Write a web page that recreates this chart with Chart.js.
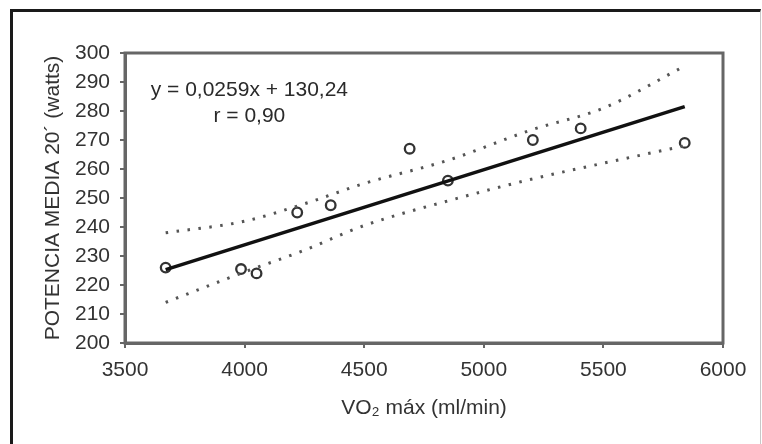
<!DOCTYPE html>
<html>
<head>
<meta charset="utf-8">
<script src="https://cdn.jsdelivr.net/npm/chart.js@4.4.0/dist/chart.umd.min.js"></script>
<style>
  body { margin: 0; background: #fff; }
  #wrap { position: relative; width: 762px; height: 444px; overflow: hidden; }
  #frame { position: absolute; left: 10px; top: 9px; right: 1px; bottom: -10px;
           border-left: 3px solid #1a1a1a; border-top: 3px solid #1a1a1a; border-right: 1px solid #c8c8c8; }
  canvas { position: absolute; left: 0; top: 0; }
</style>
</head>
<body>
<div id="wrap">
  <div id="frame"></div>
  <canvas id="chart" width="762" height="444"></canvas>
</div>
<script>
// measured points
var vo2 = [3670, 3985, 4050, 4220, 4360, 4690, 4850, 5205, 5405, 5840];
var potencia = [226, 225.5, 224, 245, 247.5, 267, 256, 270, 274, 269];

// regression line ends
var fitX = [3670, 5840];
var fitY = [225.3, 281.5];

// dotted bands
var bandX = [3670, 4000, 4250, 4500, 4850, 5200, 5500, 5840];
var bandUpper = [238, 242, 248, 255, 263, 273.5, 281, 295.5];
var bandLower = [214, 224.5, 232, 240.5, 249, 256.5, 262, 268];

var xTicks = [3500, 4000, 4500, 5000, 5500, 6000];
var yTicks = [200, 210, 220, 230, 240, 250, 260, 270, 280, 290, 300];

var eqLines = ["y = 0,0259x + 130,24", "r = 0,90"];

function pts(xs, ys) {
    return xs.map(function (x, i) { return { x: x, y: ys[i] }; });
}

var FONT = "'Liberation Sans', Arial, sans-serif";
var FSIZE = 21;
var axisColor = "#666";

var boxPlugin = {
    id: "box",
    afterDatasetsDraw: function (chart) {
        var a = chart.chartArea, ctx = chart.ctx;
        ctx.save();
        ctx.strokeStyle = axisColor;
        ctx.lineWidth = 3;
        ctx.strokeRect(a.left, a.top, a.right - a.left, a.bottom - a.top);

        // equation text
        var sx = chart.scales.x, sy = chart.scales.y;
        ctx.fillStyle = "#2a2a2a";
        ctx.font = FSIZE + "px " + FONT;
        ctx.textAlign = "center";
        ctx.textBaseline = "middle";
        var cx = sx.getPixelForValue(4020);
        ctx.fillText(eqLines[0], cx, sy.getPixelForValue(287));
        ctx.fillText(eqLines[1], cx, sy.getPixelForValue(278.2));
        ctx.restore();
    }
};

var bandStyle = {
    type: "line",
    borderColor: "#555",
    borderWidth: 3,
    borderDash: [2.5, 8.5],
    pointRadius: 0,
    cubicInterpolationMode: "monotone",
    fill: false
};

new Chart(document.getElementById("chart"), {
    type: "scatter",
    data: {
        datasets: [
            Object.assign({ data: pts(bandX, bandUpper) }, bandStyle),
            Object.assign({ data: pts(bandX, bandLower) }, bandStyle),
            {
                type: "line",
                data: pts(fitX, fitY),
                borderColor: "#111",
                borderWidth: 3.5,
                pointRadius: 0,
                fill: false
            },
            {
                data: pts(vo2, potencia),
                pointStyle: "circle",
                pointRadius: 4.8,
                pointBorderWidth: 2.3,
                pointBorderColor: "#333",
                pointBackgroundColor: "rgba(255,255,255,0)"
            }
        ]
    },
    options: {
        responsive: false,
        animation: false,
        devicePixelRatio: 1,
        layout: { padding: { top: 53, right: 39, left: 0, bottom: 0 } },
        plugins: { legend: { display: false }, tooltip: { enabled: false } },
        scales: {
            x: {
                type: "linear",
                min: 3500,
                max: 6000,
                afterBuildTicks: function (s) { s.ticks = xTicks.map(function (v) { return { value: v }; }); },
                afterFit: function (s) { s.height = 101; },
                ticks: {
                    callback: function (v) { return v; },
                    color: "#333",
                    font: { family: FONT, size: FSIZE },
                    padding: 10,
                    maxRotation: 0
                },
                grid: { drawOnChartArea: false, drawTicks: true, tickLength: 5, color: axisColor, lineWidth: 2 },
                border: { color: axisColor, width: 3 },
                title: {
                    display: true,
                    text: "VO\u2082 máx (ml/min)",
                    color: "#333",
                    font: { family: FONT, size: FSIZE },
                    padding: { top: 0, bottom: 23 }
                }
            },
            y: {
                type: "linear",
                min: 200,
                max: 300,
                afterBuildTicks: function (s) { s.ticks = yTicks.map(function (v) { return { value: v }; }); },
                afterFit: function (s) { s.width = 125; },
                ticks: {
                    callback: function (v) { return v; },
                    color: "#333",
                    font: { family: FONT, size: FSIZE },
                    padding: 10
                },
                grid: { drawOnChartArea: false, drawTicks: true, tickLength: 5, color: axisColor, lineWidth: 2 },
                border: { color: axisColor, width: 3 },
                title: {
                    display: true,
                    text: "POTENCIA MEDIA 20´ (watts)",
                    color: "#333",
                    font: { family: FONT, size: FSIZE },
                    padding: { top: 41, bottom: 0 }
                }
            }
        }
    },
    plugins: [boxPlugin]
});
</script>
</body>
</html>
